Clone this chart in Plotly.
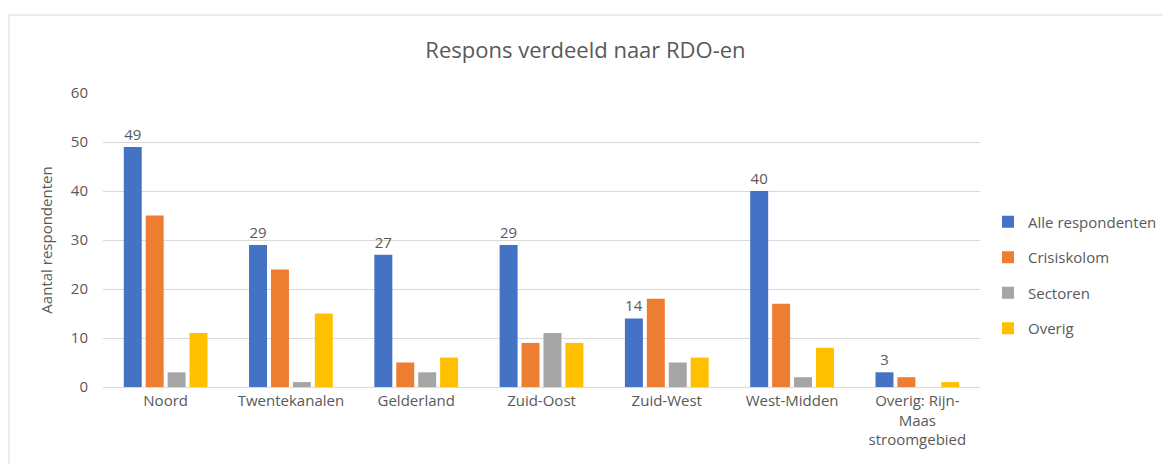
import plotly.graph_objects as go

categories = ["Noord", "Twentekanalen", "Gelderland", "Zuid-Oost", "Zuid-West",
              "West-Midden", "Overig: Rijn-<br>Maas<br>stroomgebied"]
alle = [49, 29, 27, 29, 14, 40, 3]
crisiskolom = [35, 24, 5, 9, 18, 17, 2]
sectoren = [3, 1, 3, 11, 5, 2, 0]
overig = [11, 15, 6, 9, 6, 8, 1]

series = [
    ("Alle respondenten", alle, "#4472C4", True),
    ("Crisiskolom", crisiskolom, "#ED7D31", False),
    ("Sectoren", sectoren, "#A5A5A5", False),
    ("Overig", overig, "#FFC000", False),
]

FONT = "Open Sans, Liberation Sans, sans-serif"
GRAY = "#595959"

fig = go.Figure()
for i, (name, vals, color, lbl) in enumerate(series):
    fig.add_trace(go.Bar(
        x=categories, y=vals, name=name, legendgroup=f"g{i}",
        marker=dict(color=color, line=dict(width=0)),
        text=[str(v) for v in vals] if lbl else None,
        textposition="outside" if lbl else None,
        textfont=dict(size=15, color=GRAY, family=FONT),
        cliponaxis=False,
    ))

OFF = 8  # page body margin
W, H = 1171 - 2 * OFF, 472 - 2 * OFF
# plot area in window pixels: x 103..980, y 93..387
L = 103 - OFF
T = 93 - OFF
R = W - (980 - OFF)
B = H - (387 - OFF)
pw, ph = W - L - R, H - T - B

def px_x(p):
    return (p - OFF - L) / pw

def px_y(p):
    return (H - B - (p - OFF)) / ph

fig.update_layout(
    width=W, height=H,
    margin=dict(l=L, r=R, t=T, b=B, autoexpand=False),
    paper_bgcolor="white", plot_bgcolor="white",
    barmode="group", bargap=0.3, bargroupgap=0.18,
    font=dict(family=FONT, color=GRAY, size=15),
    title=dict(text="Respons verdeeld naar RDO-en", x=0.5, xanchor="center",
               y=1 - (50 - OFF) / H, yanchor="middle",
               font=dict(size=22, color=GRAY, family=FONT)),
    legend=dict(x=px_x(988), xanchor="left", y=px_y(275), yanchor="middle",
                font=dict(size=15, color=GRAY, family=FONT),
                traceorder="grouped", tracegroupgap=13, itemwidth=30,
                bgcolor="rgba(0,0,0,0)"),
    xaxis=dict(showgrid=False, showline=True, linecolor="#D9D9D9", linewidth=1,
               ticks="", tickfont=dict(size=15, color=GRAY, family=FONT)),
    yaxis=dict(range=[0, 60], dtick=10, showgrid=True, gridcolor="#D9D9D9",
               gridwidth=1, zeroline=False, showline=False, ticks="",
               ticklabelstandoff=14,
               tickfont=dict(size=15, color=GRAY, family=FONT),
               title=dict(text="Aantal respondenten", standoff=14,
                          font=dict(size=15, color=GRAY, family=FONT))),
    shapes=[dict(type="rect", xref="paper", yref="paper",
                 x0=px_x(9), x1=px_x(1190), y0=px_y(490), y1=px_y(15),
                 line=dict(color="#D9D9D9", width=1), fillcolor="rgba(0,0,0,0)",
                 layer="below")],
)

fig.write_html("out.html")
